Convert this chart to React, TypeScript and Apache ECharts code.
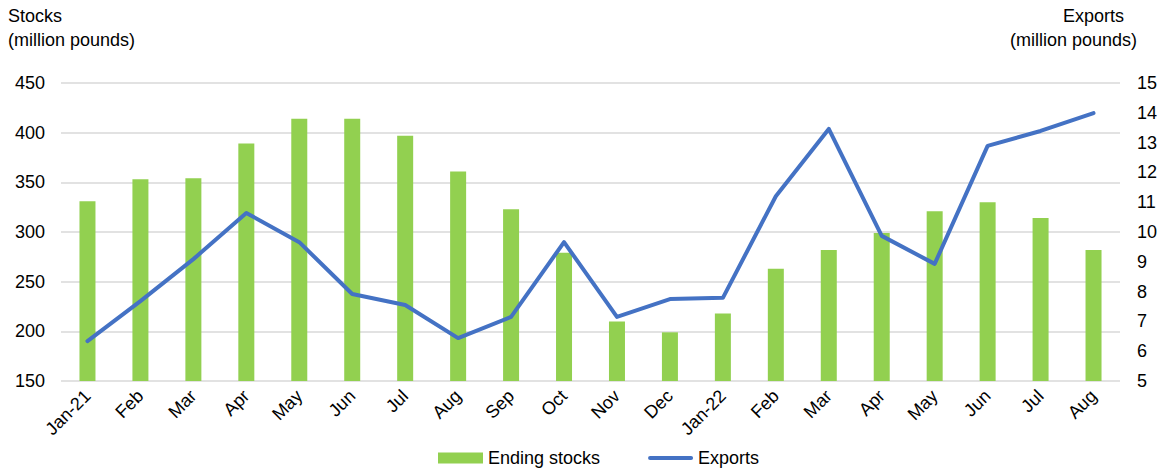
import React, { useEffect, useRef } from "react";
import * as echarts from "echarts";

const categories = ["Jan-21", "Feb", "Mar", "Apr", "May", "Jun", "Jul", "Aug", "Sep", "Oct", "Nov", "Dec", "Jan-22", "Feb", "Mar", "Apr", "May", "Jun", "Jul", "Aug"];
const endingStocks = [331, 353, 354, 389, 414, 414, 397, 361, 323, 279, 210, 199, 218, 263, 282, 299, 321, 330, 314, 282];
const exportsData = [6.34, 7.68, 9.09, 10.64, 9.66, 7.92, 7.55, 6.44, 7.15, 9.66, 7.15, 7.75, 7.79, 11.2, 13.46, 9.87, 8.93, 12.89, 13.39, 13.99];

const FONT = "Liberation Sans, Arial, sans-serif";

export default function App() {
  const ref = useRef<HTMLDivElement>(null);
  useEffect(() => {
    if (!ref.current) return;
    const chart = echarts.init(ref.current, null, { renderer: "svg" });
    chart.setOption({
      animation: false,
      backgroundColor: "#ffffff",
      grid: { left: 61, right: 43, top: 83, bottom: 92, containLabel: false, outerBoundsMode: "none" },
      legend: {
        bottom: 1,
        left: 433,
        itemWidth: 45,
        itemHeight: 11,
        itemGap: 48,
        textStyle: { fontFamily: FONT, fontSize: 18, color: "#000" },
        data: [
          { name: "Ending stocks", icon: "rect" },
          { name: "Exports", icon: "path://M2,0 L43,0 A2,2 0 0 1 43,4 L2,4 A2,2 0 0 1 2,0 Z" },
        ],
      },
      graphic: [
        { type: "text", left: 8, top: 7, style: { text: "Stocks", font: `18px ${FONT}`, fill: "#000" } },
        { type: "text", left: 8, top: 31, style: { text: "(million pounds)", font: `18px ${FONT}`, fill: "#000" } },
        { type: "text", left: 1063, top: 7, style: { text: "Exports", font: `18px ${FONT}`, fill: "#000" } },
        { type: "text", left: 1010, top: 31, style: { text: "(million pounds)", font: `18px ${FONT}`, fill: "#000" } },
      ],
      xAxis: {
        type: "category",
        data: categories,
        axisLine: { show: false },
        axisTick: { show: false },
        axisLabel: { rotate: 45, fontFamily: FONT, fontSize: 18, color: "#000", margin: 12, interval: 0 },
      },
      yAxis: [
        {
          type: "value",
          min: 150,
          max: 450,
          interval: 50,
          axisLine: { show: false },
          axisTick: { show: false },
          axisLabel: { fontFamily: FONT, fontSize: 18, color: "#000", margin: 16 },
          splitLine: { lineStyle: { color: "#d9d9d9", width: 1.5 } },
        },
        {
          type: "value",
          min: 5,
          max: 15,
          interval: 1,
          axisLine: { show: false },
          axisTick: { show: false },
          axisLabel: { fontFamily: FONT, fontSize: 18, color: "#000", margin: 17 },
          splitLine: { show: false },
        },
      ],
      series: [
        {
          name: "Ending stocks",
          type: "bar",
          data: endingStocks,
          barWidth: 16,
          itemStyle: { color: "#92D050" },
          yAxisIndex: 0,
        },
        {
          name: "Exports",
          type: "line",
          data: exportsData,
          yAxisIndex: 1,
          symbol: "none",
          lineStyle: { color: "#4472C4", width: 4, cap: "round", join: "round" },
          itemStyle: { color: "#4472C4" },
        },
      ],
    });
    return () => chart.dispose();
  }, []);
  return <div ref={ref} style={{ width: 1163, height: 473, position: "absolute", left: 0, top: 0 }} />;
}
